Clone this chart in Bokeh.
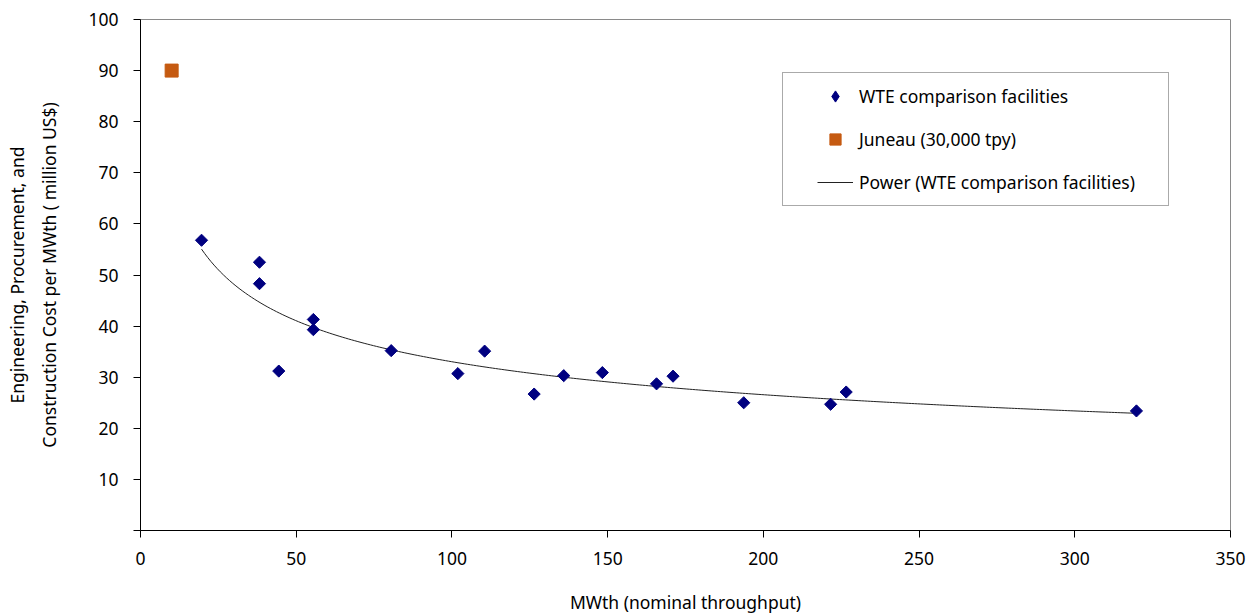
import numpy as np
from bokeh.plotting import figure
from bokeh.models import FixedTicker, Legend, LegendItem, Range1d
from bokeh.embed import file_html
from bokeh.resources import INLINE

# ---- data ----
wte_x = [19.6, 38.2, 38.2, 44.4, 55.5, 55.5, 80.5, 101.9, 110.5, 126.4,
         135.9, 148.3, 165.7, 171.0, 193.7, 221.6, 226.6, 319.8]
wte_y = [56.8, 52.5, 48.3, 31.2, 41.3, 39.3, 35.2, 30.7, 35.1, 26.7,
         30.3, 30.9, 28.7, 30.2, 25.0, 24.7, 27.1, 23.4]
juneau_x = [10.0]
juneau_y = [90.0]
x_ticks = [0, 50, 100, 150, 200, 250, 300, 350]
y_ticks = [0, 10, 20, 30, 40, 50, 60, 70, 80, 90, 100]
x_title = "MWth (nominal throughput)"
y_title = "Engineering, Procurement, and\nConstruction Cost per MWth ( million US$)"
labels = ["WTE comparison facilities", "Juneau (30,000 tpy)", "Power (WTE comparison facilities)"]

# power trendline (least squares in log-log space, as a spreadsheet power trendline)
b, ln_a = np.polyfit(np.log(wte_x), np.log(wte_y), 1)
trend_x = np.linspace(min(wte_x), max(wte_x), 300)
trend_y = np.exp(ln_a) * trend_x ** b

FONT = "Noto Sans"
FS = "17.5px"
NAVY = "#000080"
ORANGE = "#C55A11"

p = figure(width=1249, height=616, x_range=Range1d(0, 350), y_range=Range1d(0, 100),
           output_backend="svg", toolbar_location=None,
           min_border_left=140, min_border_right=19, min_border_top=19, min_border_bottom=81)
p.background_fill_color = "white"
p.border_fill_color = "white"
p.outline_line_color = "#8a8a8a"
p.xgrid.visible = False
p.ygrid.visible = False

p.xaxis.ticker = FixedTicker(ticks=x_ticks)
p.yaxis.ticker = FixedTicker(ticks=y_ticks)
p.yaxis.major_label_overrides = {0: ""}
for ax in (p.xaxis, p.yaxis):
    ax.axis_line_color = "black"
    ax.axis_line_width = 1
    ax.major_tick_line_color = "black"
    ax.major_tick_out = 7
    ax.major_tick_in = 0
    ax.minor_tick_out = 0
    ax.minor_tick_in = 0
    ax.major_label_text_font = FONT
    ax.major_label_text_font_size = FS
    ax.major_label_text_color = "black"
    ax.axis_label_text_font = FONT
    ax.axis_label_text_font_size = FS
    ax.axis_label_text_font_style = "normal"
    ax.axis_label_text_color = "black"

p.xaxis.axis_label = x_title
p.xaxis.major_label_standoff = 14
p.xaxis.axis_label_standoff = 22
p.yaxis.axis_label = y_title
p.yaxis.major_label_standoff = 15
p.yaxis.axis_label_standoff = 24
p.yaxis.axis_label_text_line_height = 1.35

r_trend = p.line(trend_x, trend_y, line_color="#222222", line_width=1)
r_wte = p.scatter(wte_x, wte_y, marker="square", angle=np.pi / 4, size=8.6,
                  fill_color=NAVY, line_color=NAVY)
r_jun = p.scatter(juneau_x, juneau_y, marker="square", size=13,
                  fill_color=ORANGE, line_color=ORANGE)
# legend key for the diamond series (legend keys ignore marker angle);
# a NaN point is not drawn in the plot area
r_wte_key = p.scatter([float("nan")], [float("nan")], marker="diamond",
                      fill_color=NAVY, line_color=NAVY)

legend = Legend(items=[LegendItem(label=labels[0], renderers=[r_wte_key]),
                       LegendItem(label=labels[1], renderers=[r_jun]),
                       LegendItem(label=labels[2], renderers=[r_trend])],
                location=(642, 324))
legend.label_text_font = FONT
legend.label_text_font_size = FS
legend.label_text_color = "black"
legend.glyph_width = 36
legend.glyph_height = 28
legend.label_height = 28
legend.spacing = 15
legend.label_standoff = 6
legend.label_width = 300
legend.border_line_color = "#555555"
legend.border_line_width = 1
legend.background_fill_color = "white"
legend.background_fill_alpha = 1
try:
    legend.padding = (34, 9, 9, 9)
except Exception:
    legend.padding = 9
p.add_layout(legend)

open("out.html", "w").write(file_html(p, INLINE))
